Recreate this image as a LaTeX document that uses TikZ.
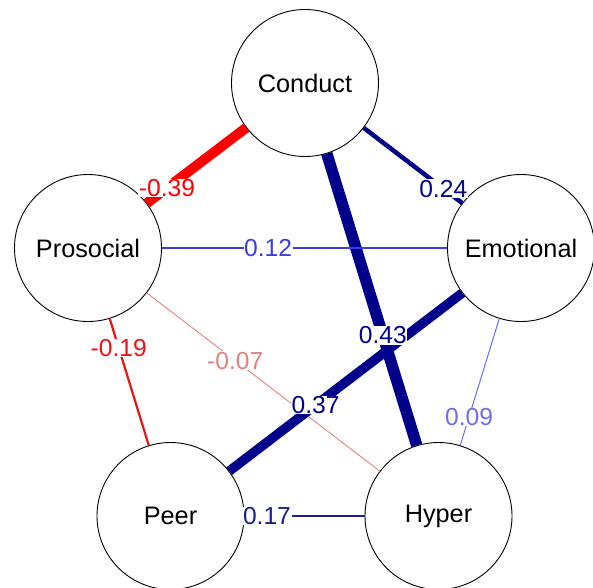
\documentclass[tikz,border=0pt]{standalone}
\usepackage{fontspec}
\setmainfont{Liberation Sans}
\usetikzlibrary{calc}
\definecolor{cnavy}{RGB}{0,0,139}
\definecolor{cnavyb}{RGB}{28,28,140}
\definecolor{cblue}{RGB}{60,60,230}
\definecolor{cbluel}{RGB}{110,110,235}
\definecolor{cred}{RGB}{255,0,0}
\definecolor{credb}{RGB}{235,20,20}
\definecolor{credl}{RGB}{225,130,130}
\tikzset{
  var/.style={circle, draw=black, line width=0.9pt, fill=white, minimum size=147pt, inner sep=0pt, font=\fontsize{25.3}{29}\selectfont},
  lbl/.style={fill=white, inner sep=0.6pt, font=\fontsize{24.6}{29}\selectfont},
  edge/.style={line cap=butt}
}
\begin{document}
\begin{tikzpicture}[x=1pt,y=-1pt]
\useasboundingbox (0,0) rectangle (593,587);
\node[var] (con) at (305,83) {Conduct};
\node[var] (pro) at (88,248) {Prosocial};
\node[var] (emo) at (521,248) {Emotional};
\node[var] (peer) at (170.5,516) {Peer};
\node[var] (hyp) at (438.5,516) {Hyper};
% edges
\draw[edge, cred, line width=10pt] (con) -- (pro);
\draw[edge, cnavy, line width=4.5pt] (con) -- (emo);
\draw[edge, cnavy, line width=11.5pt] (con) -- (hyp);
\draw[edge, cblue, line width=1.3pt] (pro) -- (emo);
\draw[edge, credb, line width=2.2pt] (pro) -- (peer);
\draw[edge, credl, line width=0.9pt] (pro) -- (hyp);
\draw[edge, cnavy, line width=9.5pt] (emo) -- (peer);
\draw[edge, cbluel, line width=1pt] (emo) -- (hyp);
\draw[edge, cnavyb, line width=2pt] (peer) -- (hyp);
% labels
\node[lbl, text=cred] (l1) at ($(con)!0.636!(pro)$) {-0.39};
\node[lbl, text=cnavy] (l2) at ($(con)!0.64!(emo)$) {0.24};
\node[lbl, text=cnavy] (l3) at ($(con)!0.583!(hyp)$) {0.43};
\node[lbl, text=cblue] (l4) at ($(pro)!0.416!(emo)$) {0.12};
\node[lbl, text=credb] (l5) at ($(pro)!0.373!(peer)$) {-0.19};
\node[lbl, text=credl] (l6) at ($(pro)!0.42!(hyp)$) {-0.07};
\node[lbl, text=cnavy] (l7) at ($(emo)!0.586!(peer)$) {0.37};
\node[lbl, text=cbluel] (l8) at ($(emo)!0.63!(hyp)$) {0.09};
\node[lbl, text=cnavyb] (l9) at ($(peer)!0.36!(hyp)$) {0.17};
\end{tikzpicture}
\end{document}
